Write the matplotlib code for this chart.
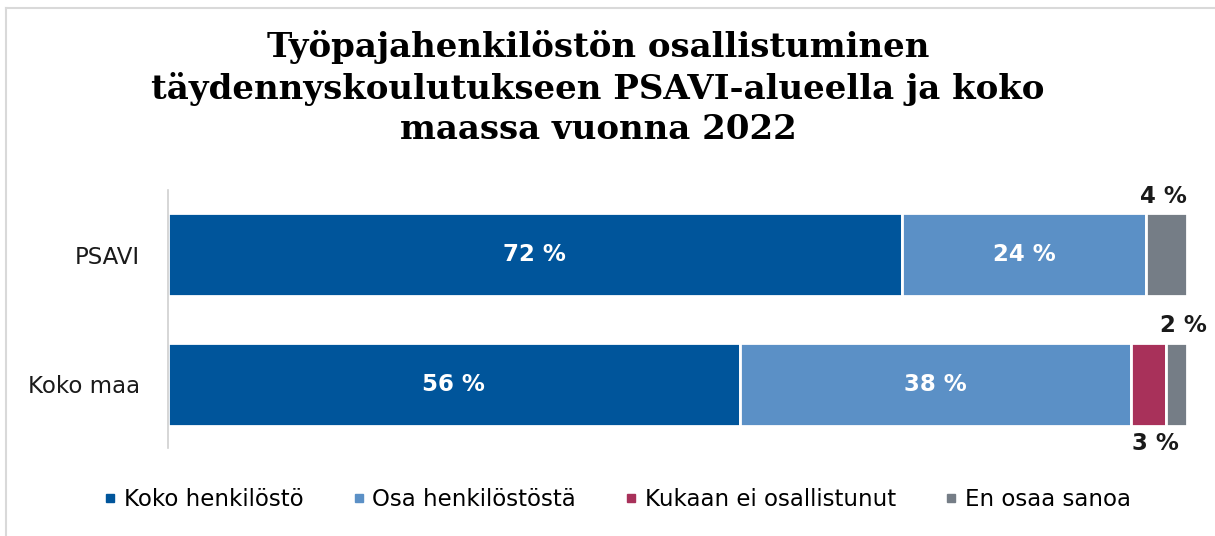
import matplotlib
matplotlib.use("Agg")
import matplotlib.pyplot as plt
from matplotlib.lines import Line2D
import numpy as np

categories = ["Koko maa", "PSAVI"]
series_names = ["Koko henkilöstö", "Osa henkilöstöstä", "Kukaan ei osallistunut", "En osaa sanoa"]
koko_henkilosto = [56.1, 72.0]
osa_henkilostosta = [38.4, 24.0]
kukaan_ei = [3.4, 0.0]
en_osaa = [2.1, 4.0]
colors = ["#00559B", "#5B90C6", "#A8315A", "#757D86"]
title = "Työpajahenkilöstön osallistuminen\ntäydennyskoulutukseen PSAVI-alueella ja koko\nmaassa vuonna 2022"

FS = 16.5
W, H = 1215, 536
fig = plt.figure(figsize=(W / 100, H / 100), dpi=100)
ax = fig.add_axes([168 / W, 88 / H, (1187 - 168) / W, (448 - 190) / H])

series = [koko_henkilosto, osa_henkilostosta, kukaan_ei, en_osaa]
y = np.arange(len(categories))
left = np.zeros(len(categories))
for vals, col, name in zip(series, colors, series_names):
    vals = np.array(vals, dtype=float)
    ax.barh(y, vals, left=left, height=0.64, color=col, edgecolor="white",
            linewidth=2, label=name)
    for i, v in enumerate(vals):
        if v >= 10:
            ax.text(left[i] + v / 2, y[i], f"{v:.0f}\u00a0%", ha="center", va="center",
                    color="white", fontsize=FS, fontweight="bold")
    left = left + vals

total = [a + b + c + d for a, b, c, d in zip(*series)]

# small outside labels
i = 1
ax.annotate(f"{en_osaa[i]:.0f}\u00a0%", xy=(total[i] - en_osaa[i] / 2, y[i] + 0.32), xytext=(-2, 4),
            textcoords="offset points", ha="center", va="bottom", fontsize=FS,
            fontweight="bold", color="#1a1a1a")
i = 0
ax.annotate(f"{en_osaa[i]:.0f}\u00a0%", xy=(total[i] - en_osaa[i] / 2, y[i] + 0.32), xytext=(5, 4),
            textcoords="offset points", ha="center", va="bottom", fontsize=FS,
            fontweight="bold", color="#1a1a1a")
ax.annotate(f"{kukaan_ei[i]:.0f}\u00a0%",
            xy=(koko_henkilosto[i] + osa_henkilostosta[i] + kukaan_ei[i] / 2, y[i] - 0.32),
            xytext=(5, -4), textcoords="offset points", ha="center", va="top",
            fontsize=FS, fontweight="bold", color="#1a1a1a")

ax.set_xlim(0, 100)
ax.set_ylim(-0.49, 1.5)
ax.set_yticks(y)
ax.set_yticklabels(categories, fontsize=FS, color="#1a1a1a")
ax.tick_params(axis="y", length=0, pad=20)
ax.set_xticks([])
for s in ["top", "right", "bottom"]:
    ax.spines[s].set_visible(False)
ax.spines["left"].set_color("#D0D0D0")
ax.spines["left"].set_linewidth(1.2)

fig.text(598 / W, 1 - 88 / H, title, ha="center", va="center", family="DejaVu Serif",
         fontweight="bold", fontsize=24.5, linespacing=1.28, color="black")

handles = [Line2D([0], [0], marker="s", linestyle="none", markersize=6,
                  markerfacecolor=c, markeredgecolor=c) for c in colors]
fig.legend(handles, series_names, loc="center", bbox_to_anchor=(617 / W, 1 - 500 / H),
           ncol=4, frameon=False, fontsize=FS, handlelength=0.6, handletextpad=0.3,
           columnspacing=2.1)

fig.add_artist(Line2D([6 / W, 1], [1 - 8 / H, 1 - 8 / H], color="#D9D9D9", linewidth=1.5,
                      transform=fig.transFigure))
fig.add_artist(Line2D([6 / W, 6 / W], [0, 1 - 8 / H], color="#D9D9D9", linewidth=1.5,
                      transform=fig.transFigure))

fig.savefig("out.png", dpi=100, facecolor="white")
